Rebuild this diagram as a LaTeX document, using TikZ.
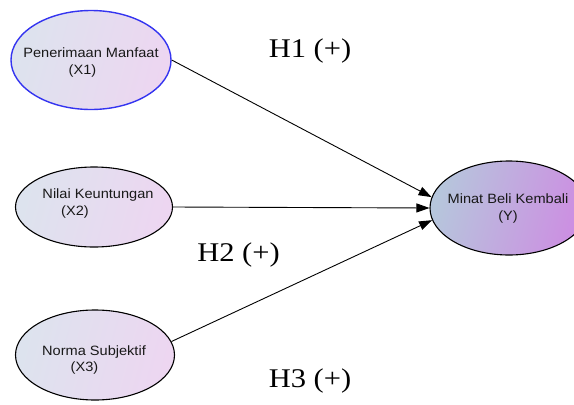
\documentclass[tikz,border=0pt]{standalone}
\usepackage{fontspec}
\usetikzlibrary{shapes.geometric,arrows.meta}
\newfontfamily\ellfont[FakeStretch=1.08]{Liberation Sans}
\newfontfamily\hypfont[FakeStretch=1.13]{Liberation Serif}
\definecolor{xleft}{HTML}{DDE3EE}
\definecolor{xright}{HTML}{EDD6F1}
\definecolor{yleft}{HTML}{B6C6DC}
\definecolor{yright}{HTML}{CD8DE2}
\definecolor{xblue}{HTML}{3434F0}
\tikzset{
  construct/.style={ellipse, draw=black, line width=1.1pt, inner sep=0pt,
    left color=xleft, right color=xright, shading angle=75},
  endog/.style={construct, left color=yleft, right color=yright, shading angle=75},
  ctext/.style={align=center, inner sep=0pt,
    font=\ellfont\fontsize{13.5}{16.5}\selectfont, text=black!90},
  path/.style={draw=black, line width=0.9pt, -{Triangle[length=13pt,width=9pt]}},
  hyp/.style={anchor=base, font=\hypfont\fontsize{27}{30}\selectfont, inner sep=0pt}
}
\begin{document}
\begin{tikzpicture}[x=1pt,y=-1pt]
\useasboundingbox (0,0) rectangle (574,405);
\node[construct, draw=xblue, line width=1.4pt, minimum width=160pt, minimum height=99pt] (x1) at (91,60) {};
\node[construct, minimum width=157pt, minimum height=80pt] (x2) at (94,207) {};
\node[construct, minimum width=159pt, minimum height=90pt] (x3) at (95,355) {};
\node[endog, minimum width=158pt, minimum height=94pt] (y) at (509,208) {};
\node[ctext] (x1t) at (91,62.5) {Penerimaan Manfaat\\\hspace*{-17pt}(X1)};
\node[ctext] (x2t) at (98,203.5) {Nilai Keuntungan\\\hspace*{-46pt}(X2)};
\node[ctext] (x3t) at (94,360) {Norma Subjektif\\\hspace*{-19pt}(X3)};
\node[ctext] (yt) at (508,208.5) {Minat Beli Kembali\\(Y)};
\draw[path] (x1.east) -- (y.172);
\draw[path] (x2.east) -- (y.west);
\draw[path] (x3.10) -- (y.189);
\node[hyp] (h1) at (310,57) {H1 (+)};
\node[hyp] (h2) at (238.5,261) {H2 (+)};
\node[hyp] (h3) at (310,387) {H3 (+)};
\end{tikzpicture}
\end{document}
